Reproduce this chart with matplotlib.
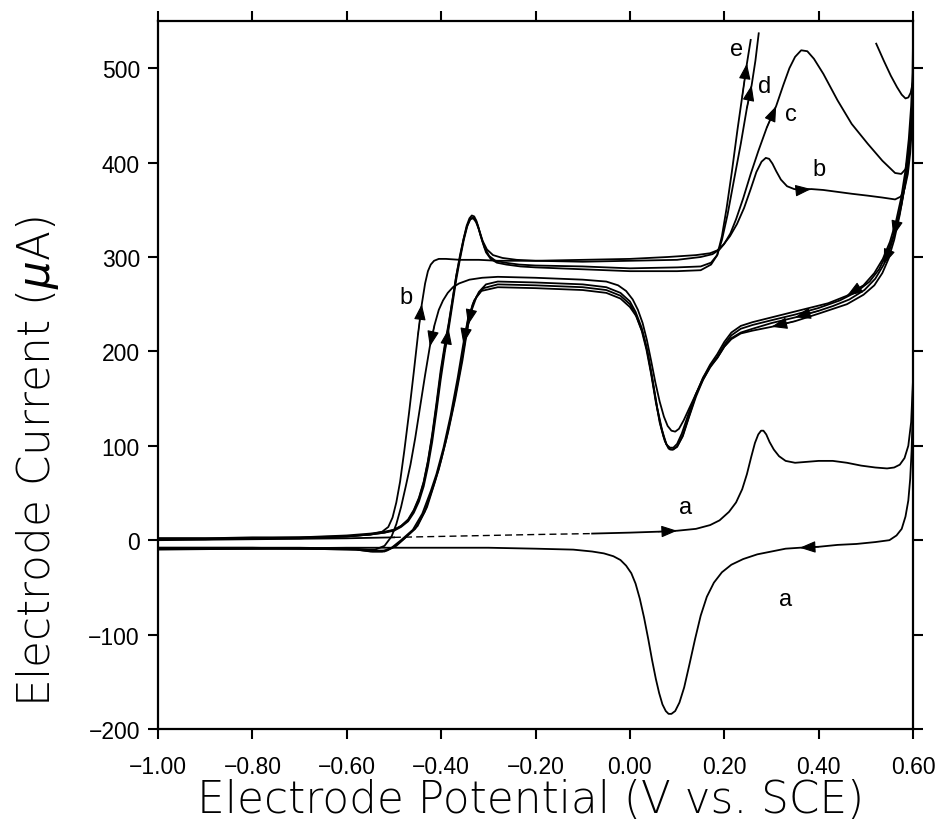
import numpy as np
import matplotlib
matplotlib.use('Agg')
import matplotlib.pyplot as plt

plt.rcParams['font.family'] = ['Liberation Sans', 'DejaVu Sans']

# Cyclic voltammograms, potential in V vs. SCE, current in uA.
# "fwd" = anodic sweep (-1.0 -> 0.6), "rev" = cathodic sweep (0.6 -> -1.0)
va_fwd = [-1.00, -0.80, -0.60, -0.50, -0.40, -0.30, -0.20, -0.08, 0.00, 0.06, 0.10,
          0.14, 0.17, 0.19, 0.21, 0.225, 0.238, 0.248, 0.257, 0.265, 0.272, 0.278,
          0.283, 0.289, 0.296, 0.305, 0.316, 0.33, 0.35, 0.375, 0.40, 0.43, 0.46,
          0.49, 0.52, 0.545, 0.56, 0.572, 0.582, 0.59, 0.596, 0.60]
ia_fwd = [0, 1, 2, 3, 4, 5, 6, 7, 8, 9, 10,
          12, 16, 21, 30, 40, 54, 70, 88, 103, 112, 116,
          116, 112, 104, 96, 89, 84, 82, 83, 84, 84, 82,
          79, 77, 76, 77, 80, 87, 100, 125, 170]
va_rev = [0.60, 0.599, 0.597, 0.594, 0.59, 0.584, 0.576, 0.565, 0.55, 0.52, 0.48,
          0.44, 0.40, 0.36, 0.33, 0.30, 0.27, 0.24, 0.215, 0.195, 0.178, 0.163,
          0.15, 0.138, 0.126, 0.115, 0.105, 0.096, 0.088, 0.082, 0.076, 0.069,
          0.062, 0.055, 0.047, 0.039, 0.03, 0.021, 0.012, 0.003, -0.008, -0.02,
          -0.035, -0.055, -0.08, -0.12, -0.2, -0.3, -0.45, -0.6, -0.8, -1.0]
ia_rev = [170, 130, 95, 65, 42, 25, 12, 5, 0, -2, -4,
          -5, -7, -8, -9, -12, -15, -20, -26, -34, -45, -60,
          -80, -105, -132, -156, -172, -181, -184, -184, -181, -174,
          -162, -147, -127, -105, -82, -62, -46, -35, -27, -21,
          -17, -14, -12, -10, -9, -8, -8, -8, -9, -10]

vb_fwd = [-1.0, -0.9, -0.8, -0.7, -0.6, -0.55, -0.525, -0.512, -0.503, -0.495,
          -0.487, -0.478, -0.468, -0.458, -0.449, -0.441, -0.434, -0.428, -0.422,
          -0.415, -0.405, -0.39, -0.36, -0.32, -0.28, -0.2, -0.1, 0.0, 0.08, 0.14,
          0.17, 0.185, 0.198, 0.212, 0.227, 0.242, 0.256, 0.268, 0.279, 0.288,
          0.295, 0.302, 0.31, 0.32, 0.333, 0.348, 0.365, 0.384, 0.41, 0.44, 0.47,
          0.504, 0.535, 0.562, 0.574, 0.582, 0.589, 0.594, 0.598, 0.60]
ib_fwd = [1, 1, 2, 2, 4, 6, 9, 14, 24, 40,
          62, 95, 135, 178, 218, 250, 272, 285, 292,
          296, 298, 298, 297, 297, 296, 296, 297, 298, 300, 302,
          304, 307, 313, 322, 335, 352, 372, 390, 401, 405,
          404, 399, 391, 382, 375, 372, 371, 372, 371, 369, 367,
          365, 363, 361, 364, 372, 388, 410, 440, 478]
vb_rev = [0.60, 0.596, 0.59, 0.582, 0.572, 0.56, 0.548, 0.535, 0.518, 0.495,
          0.46, 0.43, 0.40, 0.35, 0.30, 0.26, 0.235, 0.215, 0.20, 0.185, 0.17,
          0.155, 0.14, 0.126, 0.114, 0.104, 0.096, 0.088, 0.08, 0.072, 0.063,
          0.054, 0.045, 0.036, 0.027, 0.017, 0.006, -0.008, -0.025, -0.05, -0.1,
          -0.2, -0.28, -0.313, -0.34, -0.362, -0.375, -0.386, -0.396, -0.405,
          -0.414, -0.424, -0.434, -0.445, -0.455, -0.465, -0.475, -0.485, -0.495,
          -0.505, -0.52, -0.54, -0.57, -0.62, -0.7, -0.8, -0.9, -1.0]
ib_rev = [478, 440, 405, 375, 345, 318, 298, 283, 270, 260,
          250, 245, 240, 232, 226, 222, 219, 213, 205, 193, 183,
          170, 155, 140, 127, 118, 115, 116, 121, 131, 147,
          167, 190, 212, 230, 244, 255, 264, 270, 274, 276,
          278, 279, 278, 276, 272, 268, 262, 254, 244,
          228, 205, 175, 140, 108, 80, 57, 35, 17,
          4, -6, -10, -10, -9, -9, -8, -8, -8]

vc_fwd = [-1.0, -0.9, -0.8, -0.7, -0.6, -0.55, -0.52, -0.5, -0.485, -0.47, -0.458,
          -0.447, -0.437, -0.428, -0.419, -0.41, -0.401, -0.392, -0.384, -0.376,
          -0.368, -0.36, -0.353, -0.346, -0.34, -0.335, -0.33, -0.325, -0.319,
          -0.312, -0.303, -0.29, -0.27, -0.24, -0.2, -0.1, 0.0, 0.1, 0.15, 0.175,
          0.19, 0.2, 0.213, 0.225, 0.24, 0.256, 0.272, 0.29, 0.31, 0.325, 0.338,
          0.35, 0.363, 0.376, 0.39, 0.41, 0.44, 0.47, 0.504, 0.535, 0.562, 0.575,
          0.584, 0.591, 0.596, 0.60]
ic_fwd = [1, 1, 2, 2, 4, 6, 8, 11, 15, 22, 32,
          45, 62, 84, 112, 145, 180, 208, 230, 255,
          280, 300, 318, 333, 341, 344, 343, 338, 328,
          317, 308, 302, 299, 297, 296, 295, 296, 297, 300, 303,
          308, 314, 325, 340, 362, 388, 412, 437, 460, 482, 500,
          512, 519, 518, 510, 494, 466, 441, 420, 402, 389, 388,
          393, 410, 435, 470]
vc_rev = [0.60, 0.597, 0.592, 0.585, 0.576, 0.565, 0.552, 0.538, 0.52, 0.497,
          0.465, 0.43, 0.40, 0.35, 0.30, 0.26, 0.235, 0.215, 0.20, 0.185, 0.171,
          0.155, 0.14, 0.125, 0.11, 0.1, 0.092, 0.085, 0.078, 0.071, 0.063, 0.055,
          0.045, 0.035, 0.025, 0.012, 0.0, -0.02, -0.05, -0.1, -0.2, -0.28, -0.305,
          -0.32, -0.333, -0.343, -0.355, -0.37, -0.385, -0.4, -0.413, -0.43, -0.45,
          -0.475, -0.495, -0.515, -0.54, -0.58, -0.7, -0.85, -1.0]
ic_rev = [470, 440, 410, 382, 356, 332, 310, 292, 277, 265,
          255, 248, 243, 236, 230, 224, 220, 214, 205, 193, 185,
          172, 155, 135, 113, 102, 98, 98, 101, 110, 125, 148,
          178, 205, 225, 242, 253, 262, 268, 271, 273, 274, 271,
          263, 250, 228, 190, 150, 115, 85, 62, 35, 15,
          3, -6, -11, -11, -9, -8, -8, -8]

# d and e run off the recorder scale near the top, hence the gaps (nan)
vd_fwd = [-1.0, -0.9, -0.8, -0.7, -0.6, -0.55, -0.52, -0.5, -0.485, -0.47, -0.458,
          -0.447, -0.437, -0.428, -0.419, -0.41, -0.401, -0.392, -0.384, -0.376,
          -0.368, -0.36, -0.352, -0.345, -0.339, -0.333, -0.328, -0.322, -0.316,
          -0.308, -0.298, -0.285, -0.265, -0.235, -0.2, -0.1, 0.0, 0.1, 0.15, 0.172,
          0.185, 0.195, 0.207, 0.22, 0.235, 0.248, 0.258, 0.266, 0.273, 0.4, 0.522,
          0.538, 0.553, 0.566, 0.576, 0.584, 0.59, 0.595, 0.60]
id_fwd = [2, 2, 2, 3, 4, 6, 8, 10, 14, 20, 29,
          41, 57, 78, 104, 136, 170, 200, 224, 250,
          276, 298, 318, 332, 340, 342, 340, 333, 322,
          310, 301, 296, 294, 292, 291, 290, 288, 289, 290, 294,
          302, 318, 345, 380, 420, 458, 482, 508, 537, np.nan, 526,
          508, 492, 480, 472, 468, 469, 474, 486]
vd_rev = [0.60, 0.598, 0.594, 0.588, 0.58, 0.57, 0.558, 0.544, 0.528, 0.508,
          0.48, 0.445, 0.40, 0.35, 0.30, 0.26, 0.235, 0.215, 0.20, 0.185, 0.17,
          0.155, 0.14, 0.125, 0.112, 0.10, 0.09, 0.082, 0.074, 0.065, 0.055, 0.045,
          0.035, 0.025, 0.012, 0.0, -0.02, -0.05, -0.1, -0.2, -0.28, -0.31, -0.325,
          -0.338, -0.348, -0.36, -0.375, -0.39, -0.405, -0.418, -0.435, -0.455,
          -0.48, -0.5, -0.52, -0.545, -0.58, -0.7, -0.85, -1.0]
id_rev = [486, 455, 425, 395, 368, 345, 322, 303, 287, 274,
          263, 254, 246, 239, 233, 228, 224, 217, 207, 194, 184,
          170, 152, 130, 110, 99, 96, 97, 105, 122, 146, 176,
          202, 222, 239, 250, 259, 265, 268, 270, 271, 267, 258,
          240, 215, 180, 140, 105, 75, 55, 30, 12,
          1, -7, -12, -12, -10, -9, -9, -9]

ve_fwd = [-1.0, -0.9, -0.8, -0.7, -0.6, -0.55, -0.52, -0.5, -0.485, -0.47, -0.458,
          -0.447, -0.437, -0.428, -0.419, -0.41, -0.401, -0.392, -0.384, -0.376,
          -0.368, -0.36, -0.352, -0.345, -0.338, -0.332, -0.326, -0.32, -0.313,
          -0.305, -0.295, -0.282, -0.262, -0.232, -0.2, -0.1, 0.0, 0.1, 0.15, 0.172,
          0.185, 0.195, 0.205, 0.216, 0.228, 0.238, 0.248, 0.256, 0.4, 0.60]
ie_fwd = [2, 2, 3, 3, 5, 7, 9, 11, 15, 21, 31,
          44, 61, 83, 110, 142, 176, 205, 228, 254,
          280, 302, 320, 333, 340, 341, 337, 329, 317,
          305, 298, 294, 292, 290, 289, 287, 285, 285, 286, 292,
          302, 322, 352, 390, 435, 470, 505, 530, np.nan, 530]
ve_rev = [0.60, 0.599, 0.596, 0.591, 0.584, 0.575, 0.564, 0.551, 0.536, 0.518,
          0.495, 0.46, 0.42, 0.38, 0.34, 0.30, 0.26, 0.235, 0.215, 0.20, 0.185,
          0.17, 0.155, 0.14, 0.125, 0.112, 0.10, 0.092, 0.085, 0.077, 0.068, 0.058,
          0.048, 0.038, 0.027, 0.014, 0.0, -0.02, -0.05, -0.1, -0.2, -0.28, -0.315,
          -0.33, -0.343, -0.353, -0.365, -0.38, -0.395, -0.41, -0.422, -0.44,
          -0.46, -0.485, -0.505, -0.525, -0.55, -0.58, -0.7, -0.85, -1.0]
ie_rev = [530, 495, 460, 425, 392, 363, 338, 316, 298, 283,
          270, 259, 251, 246, 241, 236, 231, 227, 220, 210, 197,
          186, 172, 154, 131, 111, 99, 96, 96, 102, 117, 140,
          170, 198, 220, 237, 247, 256, 262, 265, 267, 268, 264,
          254, 235, 208, 172, 132, 98, 70, 52, 28,
          11, 0, -8, -12, -12, -10, -9, -9, -9]

x_ticks = [-1.0, -0.8, -0.6, -0.4, -0.2, 0.0, 0.2, 0.4, 0.6]
y_ticks = [-200, -100, 0, 100, 200, 300, 400, 500]

fig = plt.figure(figsize=(9.35, 8.28), dpi=100)
ax = fig.add_axes([0.169, 0.1184, 0.8075, 0.855])

line = dict(color='k', lw=1.3, solid_joinstyle='round')

# scan a: the forward sweep at low potential is drawn broken
va = np.array(va_fwd)
ia = np.array(ia_fwd, dtype=float)
broken = (va >= -0.5) & (va <= -0.08)
solid = ia.copy()
solid[(va > -0.5) & (va < -0.08)] = np.nan
ax.plot(va, solid, **line)
ax.plot(va[broken], ia[broken], color='k', lw=1.0, ls=(0, (5, 3)))
ax.plot(va_rev, ia_rev, **line)

for v, i in [(vb_fwd, ib_fwd), (vb_rev, ib_rev), (vc_fwd, ic_fwd), (vc_rev, ic_rev),
             (vd_fwd, id_fwd), (vd_rev, id_rev), (ve_fwd, ie_fwd), (ve_rev, ie_rev)]:
    ax.plot(v, i, **line)


def arrow(v, i, at):
    """Arrowhead on the trace, pointing along the sweep direction."""
    k = int(np.nanargmin(np.abs(np.asarray(v, dtype=float) - at)))
    ax.annotate('', xy=(v[k], i[k]), xytext=(v[k - 1], i[k - 1]),
                arrowprops=dict(arrowstyle='-|>,head_length=0.75,head_width=0.28',
                                color='k', lw=0.8, mutation_scale=13,
                                shrinkA=0, shrinkB=0))


arrow(va_fwd, ia_fwd, 0.10)
arrow(va_rev, ia_rev, 0.36)
arrow(vb_fwd, ib_fwd, -0.441)
arrow(vb_fwd, ib_fwd, 0.384)
arrow(vb_rev, ib_rev, -0.424)
arrow(vb_rev, ib_rev, 0.30)
arrow(vc_fwd, ic_fwd, 0.31)
arrow(vc_rev, ic_rev, -0.343)
arrow(vc_rev, ic_rev, 0.538)
arrow(vc_rev, ic_rev, 0.35)
arrow(vd_fwd, id_fwd, -0.384)
arrow(vd_fwd, id_fwd, 0.258)
arrow(vd_rev, id_rev, 0.558)
arrow(ve_fwd, ie_fwd, 0.248)
arrow(ve_rev, ie_rev, -0.353)
arrow(ve_rev, ie_rev, 0.46)

lbl = dict(fontsize=17, ha='center', va='center')
ax.text(0.117, 35, 'a', **lbl)
ax.text(0.33, -62, 'a', **lbl)
ax.text(-0.474, 258, 'b', **lbl)
ax.text(0.40, 393, 'b', **lbl)
ax.text(0.342, 451, 'c', **lbl)
ax.text(0.285, 481, 'd', **lbl)
ax.text(0.225, 520, 'e', **lbl)

ax.set_xlim(-1.0, 0.6)
ax.set_ylim(-200, 550)
ax.set_xticks(x_ticks)
ax.set_xticklabels([f'{t:.2f}'.replace('-', '\u2212') for t in x_ticks])
ax.set_yticks(y_ticks)
ax.set_yticklabels([str(t).replace('-', '\u2212') for t in y_ticks])
ax.tick_params(direction='out', length=7, width=1.5, top=True, right=True,
               labelsize=16.5)
ax.tick_params(axis='x', pad=12)
ax.tick_params(axis='y', pad=6)
for s in ax.spines.values():
    s.set_linewidth(1.6)

title_font = dict(family=['DejaVu Sans'], weight='light', size=31.5)
fig.text(531 / 935, 1 - 801 / 828, 'Electrode Potential (V vs. SCE)',
         ha='center', va='center', **title_font)
fig.text(38 / 935, 1 - 462 / 828, r'Electrode Current ($\mu$A)', rotation=90,
         ha='center', va='center', **title_font)

fig.savefig('out.png', dpi=100)
